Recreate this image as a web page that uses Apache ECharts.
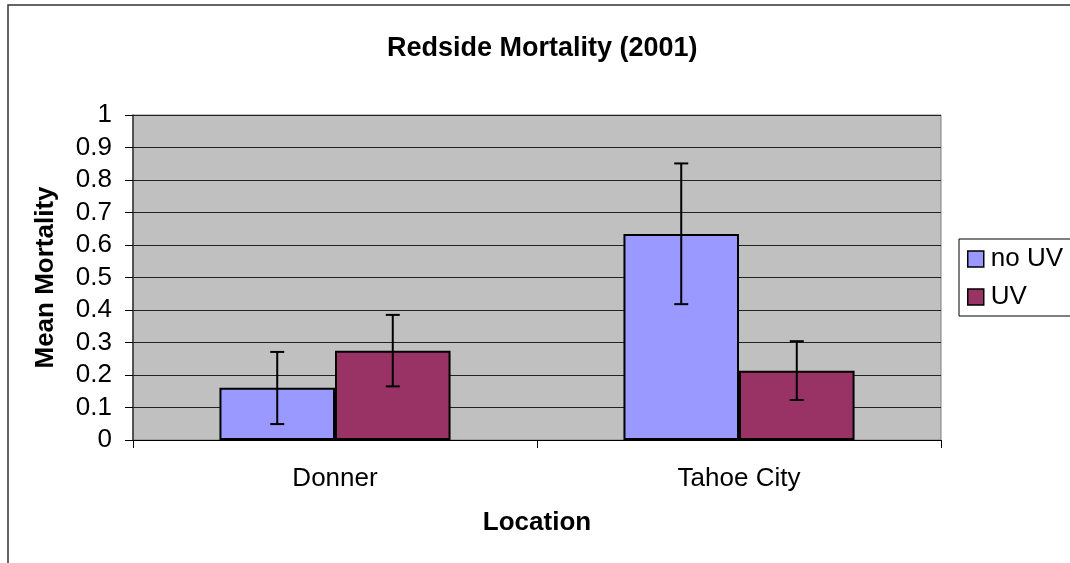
<!DOCTYPE html>
<html>
<head>
<meta charset="utf-8">
<script src="https://cdn.jsdelivr.net/npm/echarts@6/dist/echarts.min.js"></script>
<style>
  html, body { margin: 0; padding: 0; background: #fff; }
  #chart { width: 1070px; height: 563px; }
</style>
</head>
<body>
<div id="chart"></div>
<script>
const categories = ['Donner', 'Tahoe City']
const seriesNames = ['no UV', 'UV']
const noUvMean = [0.161, 0.634]
const noUvLow = [0.049, 0.418]
const noUvHigh = [0.271, 0.851]
const uvMean = [0.275, 0.213]
const uvLow = [0.165, 0.123]
const uvHigh = [0.385, 0.304]

const font = '"Liberation Sans", Arial, sans-serif'
const barFrac = 0.286 // share of the category band for each bar

// error bar drawn through the axes, shifted left/right onto its bar
function errorBar(shift) {
  return function (params, api) {
    const band = api.size([1, 0])[0]
    const dx = shift * band * barFrac / 2
    const lo = api.coord([api.value(0), api.value(1)])
    const hi = api.coord([api.value(0), api.value(2)])
    const x = lo[0] + dx
    const cap = 7
    const style = { stroke: '#000', lineWidth: 2 }
    return {
      type: 'group',
      children: [
        { type: 'line', shape: { x1: x, y1: lo[1], x2: x, y2: hi[1] }, style },
        { type: 'line', shape: { x1: x - cap, y1: lo[1], x2: x + cap, y2: lo[1] }, style },
        { type: 'line', shape: { x1: x - cap, y1: hi[1], x2: x + cap, y2: hi[1] }, style }
      ]
    }
  }
}

const chart = echarts.init(document.getElementById('chart'))
chart.setOption({
  animation: false,
  textStyle: { fontFamily: font },
  graphic: [{
    type: 'polyline',
    shape: { points: [[8, 600], [8, 5], [1100, 5]] },
    style: { stroke: '#333', lineWidth: 1.5, fill: null }
  }],
  title: {
    text: 'Redside Mortality (2001)',
    left: 387,
    top: 35,
    padding: 0,
    textStyle: { fontFamily: font, fontSize: 27, fontWeight: 'bold', color: '#000' }
  },
  legend: {
    orient: 'vertical',
    left: 959,
    top: 239,
    padding: [7, 14, 6, 8],
    itemGap: 12,
    itemWidth: 16,
    itemHeight: 16,
    icon: 'rect',
    borderColor: '#000',
    borderWidth: 1,
    itemStyle: { borderColor: '#000', borderWidth: 1.5 },
    textStyle: { fontFamily: font, fontSize: 26, color: '#000', padding: [0, 0, 0, 2] },
    data: seriesNames
  },
  grid: {
    left: 133,
    right: 129,
    top: 115,
    bottom: 123,
    show: true,
    backgroundColor: '#c0c0c0',
    borderColor: '#808080',
    borderWidth: 1
  },
  xAxis: {
    type: 'category',
    data: categories,
    name: 'Location',
    nameLocation: 'middle',
    nameGap: 70,
    nameTextStyle: { fontFamily: font, fontSize: 26, fontWeight: 'bold', color: '#000', verticalAlign: 'top' },
    axisLine: { lineStyle: { color: '#000', width: 1 } },
    axisTick: { show: true, length: 8, lineStyle: { color: '#000' } },
    axisLabel: { margin: 26, fontSize: 26, color: '#000', fontFamily: font },
    splitLine: { show: false }
  },
  yAxis: {
    type: 'value',
    min: 0,
    max: 1,
    interval: 0.1,
    name: 'Mean Mortality',
    nameLocation: 'middle',
    nameGap: 74,
    nameTextStyle: { fontFamily: font, fontSize: 26, fontWeight: 'bold', color: '#000' },
    axisLine: { show: true, lineStyle: { color: '#333', width: 1.5 } },
    axisTick: { show: true, length: 8, lineStyle: { color: '#000' } },
    axisLabel: {
      margin: 21, fontSize: 26, color: '#000', fontFamily: font,
      formatter: v => String(Math.round(v * 10) / 10)
    },
    splitLine: { show: true, lineStyle: { color: '#222', width: 1 } }
  },
  series: [
    {
      name: 'no UV',
      type: 'bar',
      barWidth: (barFrac * 100) + '%',
      barGap: 0,
      data: noUvMean,
      itemStyle: { color: '#9999ff', borderColor: '#000', borderWidth: 2 }
    },
    {
      name: 'UV',
      type: 'bar',
      barWidth: (barFrac * 100) + '%',
      barGap: 0,
      data: uvMean,
      itemStyle: { color: '#993366', borderColor: '#000', borderWidth: 2 }
    },
    {
      type: 'custom',
      renderItem: errorBar(-1),
      data: categories.map((c, i) => [i, noUvLow[i], noUvHigh[i]]),
      z: 10
    },
    {
      type: 'custom',
      renderItem: errorBar(1),
      data: categories.map((c, i) => [i, uvLow[i], uvHigh[i]]),
      z: 10
    }
  ]
})
</script>
</body>
</html>
